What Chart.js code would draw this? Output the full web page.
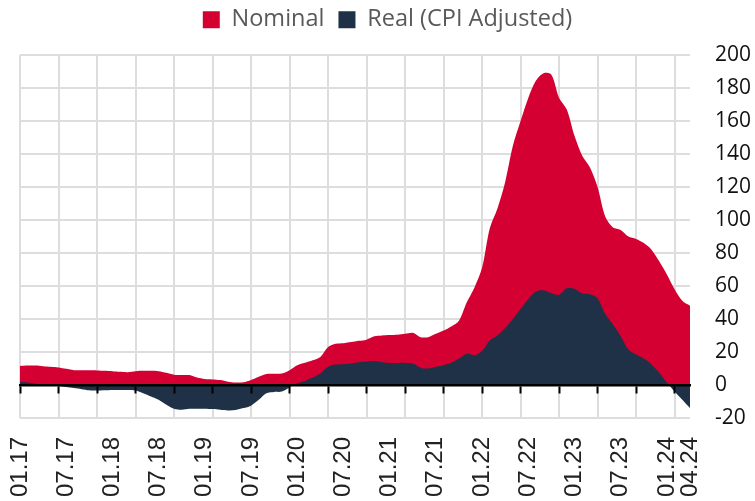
<!DOCTYPE html>
<html>
<head>
<meta charset="utf-8">
<script src="https://cdn.jsdelivr.net/npm/chart.js@4.4.1/dist/chart.umd.min.js"></script>
<style>
    body { margin: 0; background: #ffffff; }
    #wrap { width: 755px; height: 501px; }
</style>
</head>
<body>
<div id="wrap"><canvas id="chart"></canvas></div>
<script>
// monthly values, 01.17 - 04.24
const nominal = [
    11.5, 11.8, 11.8, 11.4, 11.0, 10.6, 9.8, 9.0, 9.0, 8.9, 8.8, 8.6,
    8.4, 8.0, 7.8, 8.4, 8.6, 8.6, 8.4, 7.4, 6.2, 6.0, 6.0, 4.5,
    3.6, 3.4, 3.0, 2.0, 1.5, 1.6, 3.0, 5.0, 6.6, 6.8, 7.0, 9.0,
    12.0, 13.5, 15.0, 17.0, 23.0, 25.0, 25.3, 26.0, 26.8, 27.5, 29.5, 30.0,
    30.3, 30.5, 31.0, 31.6, 29.0, 29.0, 31.0, 33.0, 35.5, 39.0, 50.0, 59.0,
    71.0, 95.0, 107.0, 123.0, 145.0, 160.0, 174.0, 184.5, 189.0, 188.0, 174.0, 167.0,
    151.0, 139.0, 132.0, 120.0, 102.0, 95.5, 94.0, 90.0, 88.5, 86.0, 82.0, 75.0,
    67.0, 58.0, 51.0, 48.0
];

const real = [
    2.0, 1.5, 0.8, 0.3, 0.0, -0.8, -1.2, -1.8, -2.5, -3.2, -3.4, -3.2,
    -3.0, -3.0, -3.0, -3.4, -5.0, -7.0, -9.0, -12.0, -14.4, -15.0, -14.4, -14.4,
    -14.4, -14.6, -15.0, -15.4, -15.2, -14.0, -12.5, -9.0, -5.0, -4.2, -4.0, -1.5,
    1.0, 2.5, 4.5, 7.0, 11.0, 12.4, 12.6, 13.0, 13.8, 14.2, 14.5, 13.8,
    13.4, 13.4, 13.4, 13.0, 10.5, 10.0, 11.0, 12.0, 13.5, 16.0, 19.0, 18.0,
    20.6, 27.0, 30.0, 34.5, 40.0, 46.0, 52.0, 56.6, 57.4, 55.6, 54.6, 58.6,
    58.4, 55.6, 55.0, 52.5, 43.0, 36.7, 29.6, 21.5, 18.5, 16.0, 12.5, 7.5,
    1.5, -4.0, -9.0, -14.0
];

const tickLabels = ['01.17', '07.17', '01.18', '07.18', '01.19', '07.19', '01.20', '07.20',
    '01.21', '07.21', '01.22', '07.22', '01.23', '07.23', '01.24', '04.24'];

const yTicks = { min: -20, max: 200, step: 20 };
const gridEvery = 5;   // vertical grid lines every 5 months

// category labels mm.yy
let months = [];
for (let y = 17; y <= 24; y++) {
    for (let m = 1; m <= 12; m++) {
        if (y === 24 && m > 4) break;
        months.push(String(m).padStart(2, '0') + '.' + y);
    }
}

const RED = '#d50032';
const NAVY = '#1f3146';
const GRID = '#dddddd';

/* push the plot down a bit under the legend */
const legendGap = {
    id: 'legendGap',
    beforeInit(chart) {
        const fit = chart.legend.fit;
        chart.legend.fit = function () {
            fit.bind(chart.legend)();
            this.height += 13.5;
        };
    }
};

let ctx = document.getElementById('chart').getContext('2d');
let chart = new Chart(ctx, {
    type: 'line',
    data: {
        labels: months,
        datasets: [{
            label: 'Nominal',
            data: nominal,
            backgroundColor: RED,
            borderColor: RED,
            borderWidth: 0,
            fill: 'origin',
            pointRadius: 0,
            tension: 0.3,
            order: 2
        }, {
            label: 'Real (CPI Adjusted)',
            data: real,
            backgroundColor: NAVY,
            borderColor: NAVY,
            borderWidth: 0,
            fill: 'origin',
            pointRadius: 0,
            tension: 0.3,
            order: 1
        }]
    },
    options: {
        responsive: true,
        maintainAspectRatio: false,
        animation: false,
        layout: { padding: { left: 20, right: 0, top: -6, bottom: 0 } },
        plugins: {
            tooltip: { enabled: false },
            legend: {
                position: 'top',
                labels: {
                    boxWidth: 17,
                    boxHeight: 17,
                    padding: 14,
                    color: '#595959',
                    font: { family: 'Open Sans', size: 23.5 },
                    sort: (a, b) => a.datasetIndex - b.datasetIndex
                }
            }
        },
        scales: {
            x: {
                type: 'category',
                afterFit: (scale) => { scale.height = 83; },
                grid: {
                    color: (c) => c.index % gridEvery === 0 ? GRID : 'transparent',
                    lineWidth: 2,
                    drawTicks: false
                },
                border: { display: false },
                ticks: {
                    autoSkip: false,
                    minRotation: 90,
                    maxRotation: 90,
                    padding: 19,
                    color: '#222222',
                    font: { family: 'Liberation Sans', size: 24 },
                    callback: function (value, index) {
                        let lab = months[index];
                        return tickLabels.includes(lab) ? lab : '';
                    }
                }
            },
            // zero line with the little black tick marks
            x0: {
                type: 'category',
                axis: 'x',
                labels: months,
                position: { y: 0 },
                grid: {
                    drawOnChartArea: false,
                    drawTicks: true,
                    tickLength: 7,
                    tickWidth: 2,
                    tickColor: (c) => c.index % gridEvery === 0 ? '#000000' : 'transparent',
                    z: 1
                },
                border: { display: true, color: '#000000', width: 2.5, z: 1 },
                ticks: { display: false, autoSkip: false }
            },
            y: {
                position: 'right',
                min: yTicks.min,
                max: yTicks.max,
                afterFit: (scale) => { scale.width = 65; },
                grid: { color: GRID, lineWidth: 2, drawTicks: false },
                border: { display: false },
                ticks: {
                    stepSize: yTicks.step,
                    padding: 25,
                    color: '#111111',
                    font: { family: 'Open Sans', size: 21 }
                }
            }
        }
    },
    plugins: [legendGap]
});
</script>
</body>
</html>
